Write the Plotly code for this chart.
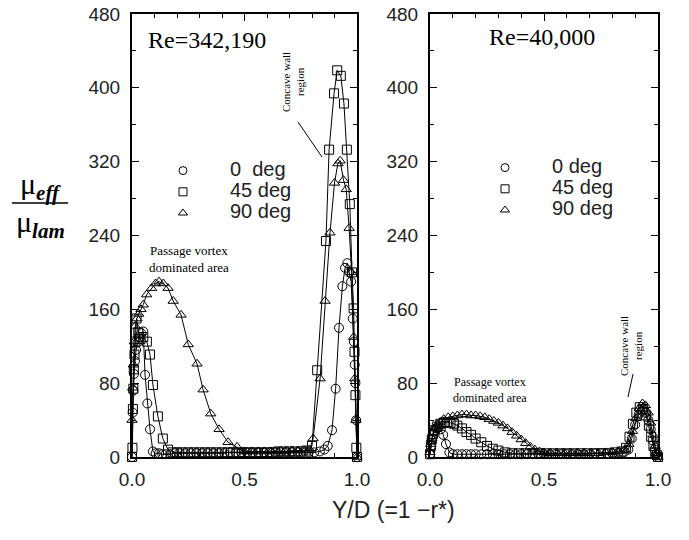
import plotly.graph_objects as go

# ---------------- data ----------------
# Re = 342,190 (left panel)
xL0 = [0.0, 0.003, 0.006, 0.009, 0.013, 0.018, 0.024, 0.032, 0.041, 0.05, 0.058, 0.068, 0.08, 0.093,
       0.105, 0.12, 0.135, 0.15, 0.17, 0.19, 0.21, 0.235, 0.26, 0.285, 0.31, 0.335, 0.36, 0.385, 0.41,
       0.435, 0.46, 0.485, 0.51, 0.535, 0.56, 0.585, 0.61, 0.635, 0.66, 0.685, 0.71, 0.735, 0.76, 0.785,
       0.81, 0.835, 0.855, 0.87, 0.889, 0.905, 0.92, 0.935, 0.947, 0.957, 0.966, 0.974, 0.981, 0.986,
       0.99, 0.993, 0.996, 1.0]
yL0 = [0, 48, 72, 90, 104, 116, 124, 130, 134, 136, 89, 58, 30, 6,
       4, 4, 3, 3, 3, 4, 4, 4, 4, 4, 4, 4, 4, 4, 4,
       5, 5, 5, 5, 5, 5, 5, 5, 5, 5, 5, 5, 5, 5, 5,
       5, 6, 8, 12, 29, 74, 140, 185, 205, 210, 200, 190, 150, 125,
       100, 80, 40, 0]

xL45 = [0.0, 0.002, 0.004, 0.006, 0.008, 0.011, 0.015, 0.02, 0.028, 0.038, 0.05, 0.066, 0.08, 0.093,
        0.115, 0.137, 0.16, 0.18, 0.2, 0.225, 0.25, 0.275, 0.3, 0.325, 0.35, 0.375, 0.4, 0.425, 0.45,
        0.475, 0.5, 0.525, 0.55, 0.575, 0.6, 0.625, 0.65, 0.675, 0.7, 0.725, 0.75, 0.775, 0.8, 0.823,
        0.862, 0.876, 0.898, 0.912, 0.928, 0.942, 0.955, 0.968, 0.978, 0.985, 0.989, 0.993, 0.997, 1.0]
yL45 = [0, 10, 52, 74, 95, 111, 125, 150, 135, 128, 130, 125, 111, 78,
        44, 20, 8, 5, 5, 5, 5, 5, 5, 5, 5, 5, 5, 5, 5,
        5, 5, 5, 5, 5, 5, 5, 6, 6, 6, 6, 6, 7, 12, 94,
        234, 333, 394, 419, 413, 383, 333, 274, 200, 161, 114, 67, 10, 0]

xL90 = [0.0, 0.003, 0.006, 0.01, 0.015, 0.022, 0.03, 0.04, 0.05, 0.065, 0.087, 0.105, 0.12, 0.139,
        0.16, 0.183, 0.218, 0.25, 0.289, 0.316, 0.35, 0.387, 0.427, 0.467, 0.5, 0.53, 0.56, 0.59,
        0.62, 0.65, 0.68, 0.71, 0.74, 0.77, 0.79, 0.805, 0.836, 0.858, 0.88, 0.9, 0.915, 0.925,
        0.94, 0.952, 0.965, 0.976, 0.985, 0.99, 0.995, 1.0]
yL90 = [40, 75, 100, 125, 142, 150, 155, 160, 165, 176, 183, 188, 190, 188,
        183, 169, 154, 122, 101, 73, 47, 30, 16, 11, 6, 6, 6, 6,
        6, 6, 6, 7, 7, 7, 8, 20, 85, 169, 243, 297, 318, 321,
        300, 290, 248, 200, 130, 85, 40, 0]

# Re = 40,000 (right panel)
xR0 = [0.0, 0.004, 0.008, 0.013, 0.02, 0.028, 0.037, 0.047, 0.058, 0.07, 0.085,
       0.1, 0.12, 0.14, 0.16, 0.18, 0.2, 0.225, 0.25, 0.275, 0.3, 0.325, 0.35, 0.375, 0.4,
       0.425, 0.45, 0.475, 0.5, 0.525, 0.55, 0.575, 0.6, 0.625, 0.65, 0.675, 0.7,
       0.725, 0.75, 0.775, 0.8, 0.825, 0.85, 0.87,
       0.885, 0.9, 0.915, 0.93, 0.945, 0.958, 0.968, 0.977, 0.985, 0.992, 1.0]
yR0 = [3, 12, 19, 24, 28, 31, 32, 30, 24, 14, 5,
       3, 3, 3, 3, 3, 3, 3, 3, 3, 3, 3, 3, 3, 3,
       3, 3, 3, 3, 3, 3, 3, 3, 3, 3, 3, 3,
       4, 4, 4, 4, 4, 5, 8,
       20, 35, 46, 50, 48, 40, 30, 18, 8, 3, 0]

xR45 = [0.0, 0.004, 0.008, 0.013, 0.02, 0.03, 0.045, 0.06, 0.075, 0.09, 0.105, 0.12, 0.14, 0.16,
        0.18, 0.2, 0.225, 0.25, 0.275, 0.3, 0.33, 0.36, 0.39, 0.42, 0.45, 0.48, 0.51, 0.54,
        0.57, 0.6, 0.63, 0.66, 0.69, 0.72, 0.75, 0.78, 0.81, 0.84, 0.86, 0.875, 0.89, 0.905,
        0.92, 0.935, 0.948, 0.96, 0.97, 0.98, 0.988, 0.995, 1.0]
yR45 = [3, 12, 19, 25, 29, 33, 36, 37, 38, 37, 36, 34, 31, 27,
        24, 20, 16, 12, 9, 7, 5, 4, 4, 4, 4, 4, 4, 4,
        4, 4, 4, 4, 4, 4, 4, 4, 5, 6, 10, 22, 36, 48,
        54, 52, 45, 34, 22, 12, 5, 2, 0]

xR90 = [0.0, 0.004, 0.008, 0.013, 0.02, 0.03, 0.045, 0.06, 0.08, 0.1, 0.12, 0.14, 0.16, 0.18,
        0.2, 0.22, 0.24, 0.26, 0.28, 0.3, 0.32, 0.34, 0.36, 0.38, 0.4, 0.42, 0.44, 0.46,
        0.48, 0.5, 0.53, 0.56, 0.59, 0.62, 0.65, 0.68, 0.71, 0.74, 0.77, 0.8, 0.83, 0.855,
        0.872, 0.888, 0.903, 0.918, 0.932, 0.945, 0.957, 0.968, 0.978, 0.987, 0.994, 1.0]
yR90 = [5, 14, 20, 26, 31, 35, 38, 41, 43, 44, 45, 46, 46, 45,
        45, 44, 43, 41, 39, 37, 34, 31, 27, 23, 19, 15, 11, 8,
        6, 5, 4, 4, 4, 4, 4, 4, 4, 4, 5, 5, 6, 8,
        14, 28, 42, 53, 58, 56, 48, 37, 24, 12, 4, 0]

series_names = ["0\u00a0\u00a0deg", "45 deg", "90 deg"]
series_names_right = ["0 deg", "45 deg", "90 deg"]
panel_titles = ["Re=342,190", "Re=40,000"]
x_ticks = [0.0, 0.5, 1.0]
y_ticks = [0, 80, 160, 240, 320, 400, 480]

# ---------------- figure ----------------
W, H = 689, 540
def PX(x):
    return x / W
def PY(y):
    return 1 - y / H

symbols = ["circle-open", "square-open", "triangle-up-open"]
fig = go.Figure()

left = [(xL0, yL0), (xL45, yL45), (xL90, yL90)]
right = [(xR0, yR0), (xR45, yR45), (xR90, yR90)]

mk = lambda sym, s=9: dict(symbol=sym, size=s, color="black", line=dict(width=1, color="black"))

for (xs, ys), sym in zip(left, symbols):
    fig.add_trace(go.Scatter(x=xs, y=ys, mode="lines+markers", xaxis="x", yaxis="y",
                             line=dict(color="black", width=1), marker=mk(sym),
                             cliponaxis=False, showlegend=False))
for (xs, ys), sym in zip(right, symbols):
    fig.add_trace(go.Scatter(x=xs, y=ys, mode="lines+markers", xaxis="x2", yaxis="y2",
                             line=dict(color="black", width=1), marker=mk(sym),
                             cliponaxis=False, showlegend=False))

# legend entries (text drawn at 20px while item spacing follows the legend font size)
for name, sym in zip(series_names, symbols):
    fig.add_trace(go.Scatter(x=[None], y=[None], mode="markers", xaxis="x", yaxis="y",
                             name='<span style="font-size:20px">%s</span>' % name,
                             marker=mk(sym, 8), legend="legend"))
for name, sym in zip(series_names_right, symbols):
    fig.add_trace(go.Scatter(x=[None], y=[None], mode="markers", xaxis="x2", yaxis="y2",
                             name='<span style="font-size:20px">%s</span>' % name,
                             marker=mk(sym, 8), legend="legend2"))

tickfont = dict(family="Liberation Sans", size=19, color="#222")
xcommon = dict(range=[0, 1.0], tickvals=x_ticks, tickformat=".1f", ticks="inside", ticklen=7,
               tickwidth=1.2, tickcolor="black",
               minor=dict(dtick=0.1, tick0=0, ticks="inside", ticklen=4, tickcolor="black"),
               showline=True, linecolor="black", linewidth=2, mirror="ticks", automargin=False,
               showgrid=False, zeroline=False, tickfont=tickfont, ticklabelstandoff=4)
ycommon = dict(range=[0, 480], tickvals=y_ticks, ticks="inside", ticklen=7, tickwidth=1.2,
               tickcolor="black", automargin=False,
               minor=dict(dtick=40, tick0=0, ticks="inside", ticklen=4, tickcolor="black"),
               showline=True, linecolor="black", linewidth=2, mirror="ticks",
               showgrid=False, zeroline=False, tickfont=tickfont, ticklabelstandoff=6)

ybot, ytop = PY(457), PY(14)
legfont = dict(family="Liberation Sans", size=14, color="#222")
fig.update_layout(
    width=W, height=H, margin=dict(l=0, r=0, t=0, b=0, autoexpand=False),
    paper_bgcolor="white", plot_bgcolor="white",
    xaxis=dict(domain=[PX(132), PX(357)], anchor="y", **xcommon),
    yaxis=dict(domain=[ybot, ytop], anchor="x", **ycommon),
    xaxis2=dict(domain=[PX(430), PX(658)], anchor="y2", **xcommon),
    yaxis2=dict(domain=[ybot, ytop], anchor="x2", **ycommon),
    legend=dict(x=PX(136), y=PY(155), xanchor="left", yanchor="top", bgcolor="rgba(0,0,0,0)",
                font=legfont, itemwidth=84, tracegroupgap=0),
    legend2=dict(x=PX(458), y=PY(152), xanchor="left", yanchor="top", bgcolor="rgba(0,0,0,0)",
                 font=legfont, itemwidth=84, tracegroupgap=0),
)

serif = "Liberation Serif"
ann = [
    dict(x=PX(207), y=PY(40), text=panel_titles[0], font=dict(family=serif, size=24, color="black")),
    dict(x=PX(542), y=PY(37), text=panel_titles[1], font=dict(family=serif, size=24, color="black")),
    dict(x=PX(189), y=PY(259), text="Passage vortex<br>dominated area",
         font=dict(family=serif, size=13, color="black")),
    dict(x=PX(490), y=PY(390), text="Passage vortex<br>dominated area",
         font=dict(family=serif, size=12, color="black")),
    dict(x=PX(293), y=PY(82), text="Concave wall<br>region", textangle=-90,
         font=dict(family=serif, size=11, color="black")),
    dict(x=PX(631), y=PY(346), text="Concave wall<br>region", textangle=-90,
         font=dict(family=serif, size=11, color="black")),
    dict(x=PX(394), y=PY(510), text="Y/D (=1 \u2212r*)",
         font=dict(family="Liberation Sans", size=23, color="#222")),
    dict(x=PX(40), y=PY(186), text="\u03bc<sub><b><i>eff</i></b></sub>",
         font=dict(family=serif, size=30, color="black")),
    dict(x=PX(40), y=PY(224), text="\u03bc<sub><b><i>lam</i></b></sub>",
         font=dict(family=serif, size=30, color="black")),
]
for a in ann:
    a.update(xref="paper", yref="paper", showarrow=False, xanchor="center", yanchor="middle")
fig.update_layout(annotations=ann)

fig.update_layout(shapes=[
    dict(type="line", xref="paper", yref="paper", x0=PX(12), x1=PX(68), y0=PY(203), y1=PY(203),
         line=dict(color="black", width=1.5)),
    dict(type="line", xref="paper", yref="paper", x0=PX(298), x1=PX(322), y0=PY(122), y1=PY(157),
         line=dict(color="black", width=1)),
    dict(type="line", xref="paper", yref="paper", x0=PX(633), x1=PX(628), y0=PY(374), y1=PY(397),
         line=dict(color="black", width=1)),
])

fig.write_html("out.html")
